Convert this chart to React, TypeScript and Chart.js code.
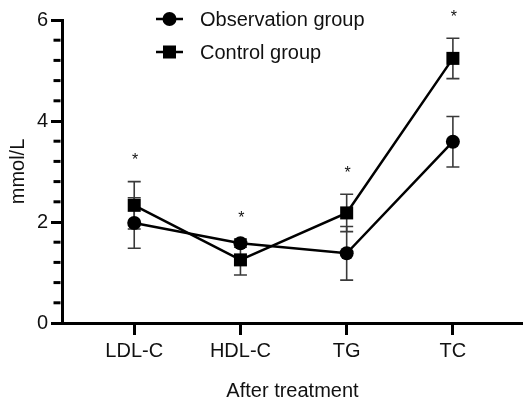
import React, { useEffect, useRef } from 'react';
import { Chart, registerables } from 'chart.js';

Chart.register(...registerables);

const categories = ['LDL-C', 'HDL-C', 'TG', 'TC'];
const observationMean = [1.98, 1.58, 1.38, 3.59];
const observationSD = [0.5, 0.08, 0.53, 0.5];
const controlMean = [2.33, 1.25, 2.18, 5.24];
const controlSD = [0.47, 0.3, 0.37, 0.4];
const significant = [true, true, true, true];
const seriesLabels = ['Observation group', 'Control group'];
const yMajorTicks = [0, 2, 4, 6];

const FONT = "'Liberation Sans', Arial, Helvetica, sans-serif";
const INK = '#111';

const overlay = {
  id: 'overlay',
  beforeDatasetsDraw(chart: any) {
    const ctx = chart.ctx;
    const xs = chart.scales.x;
    const ys = chart.scales.y;
    ctx.save();
    ctx.strokeStyle = '#3a3a3a';
    ctx.lineWidth = 1.6;
    const drawBars = (means: number[], sds: number[]) => {
      means.forEach((m, i) => {
        const px = xs.getPixelForValue(i);
        const top = ys.getPixelForValue(m + sds[i]);
        const bot = ys.getPixelForValue(m - sds[i]);
        ctx.beginPath();
        ctx.moveTo(px, top);
        ctx.lineTo(px, bot);
        ctx.moveTo(px - 6.5, top);
        ctx.lineTo(px + 6.5, top);
        ctx.moveTo(px - 6.5, bot);
        ctx.lineTo(px + 6.5, bot);
        ctx.stroke();
      });
    };
    drawBars(observationMean, observationSD);
    drawBars(controlMean, controlSD);
    ctx.restore();
  },
  afterDraw(chart: any) {
    const ctx = chart.ctx;
    const xs = chart.scales.x;
    const ys = chart.scales.y;
    ctx.save();
    // minor ticks
    ctx.strokeStyle = '#000';
    ctx.lineWidth = 3;
    const axisX = ys.right - 1.5;
    for (let k = 1; k < 15; k++) {
      if (k % 5 === 0) continue;
      const py = ys.getPixelForValue(k * 0.4);
      ctx.beginPath();
      ctx.moveTo(axisX - 7, py);
      ctx.lineTo(axisX, py);
      ctx.stroke();
    }
    // asterisks
    ctx.fillStyle = INK;
    ctx.font = `16px ${FONT}`;
    ctx.textAlign = 'center';
    ctx.textBaseline = 'middle';
    significant.forEach((s, i) => {
      if (!s) return;
      const top = Math.max(observationMean[i] + observationSD[i], controlMean[i] + controlSD[i]);
      const py = ys.getPixelForValue(top) - 24;
      ctx.fillText('*', xs.getPixelForValue(i) + 1, py + 3);
    });
    // legend
    const legendY = [19, 52];
    const styles = ['circle', 'rect'];
    seriesLabels.forEach((lab, i) => {
      const y = legendY[i];
      ctx.strokeStyle = '#000';
      ctx.lineWidth = 2.5;
      ctx.beginPath();
      ctx.moveTo(156, y);
      ctx.lineTo(183, y);
      ctx.stroke();
      ctx.fillStyle = '#000';
      if (styles[i] === 'circle') {
        ctx.beginPath();
        ctx.arc(169.5, y, 7, 0, Math.PI * 2);
        ctx.fill();
      } else {
        ctx.fillRect(163, y - 6.5, 13, 13);
      }
      ctx.fillStyle = INK;
      ctx.font = `20px ${FONT}`;
      ctx.textAlign = 'left';
      ctx.textBaseline = 'middle';
      ctx.fillText(lab, 200, y + 1);
    });
    ctx.restore();
  },
};

export default function App() {
  const ref = useRef<HTMLCanvasElement>(null);
  useEffect(() => {
    document.body.style.margin = '0';
    if (!ref.current) return;
    const chart = new Chart(ref.current, {
      type: 'line',
      data: {
        datasets: [
          {
            label: seriesLabels[0],
            data: observationMean.map((v, i) => ({ x: i, y: v })),
            borderColor: '#000',
            backgroundColor: '#000',
            borderWidth: 2.5,
            pointStyle: 'circle',
            pointRadius: 7,
            pointBorderWidth: 0,
          },
          {
            label: seriesLabels[1],
            data: controlMean.map((v, i) => ({ x: i, y: v })),
            borderColor: '#000',
            backgroundColor: '#000',
            borderWidth: 2.5,
            pointStyle: 'rect',
            pointRadius: 9.2,
            pointBorderWidth: 0,
          },
        ],
      },
      options: {
        responsive: false,
        animation: false,
        layout: { autoPadding: false, padding: { top: 20, right: 0, left: 0, bottom: 0 } },
        plugins: { legend: { display: false }, tooltip: { enabled: false } },
        scales: {
          x: {
            type: 'linear',
            min: -0.68,
            max: 3.66,
            afterBuildTicks: (s: any) => {
              s.ticks = categories.map((_, i) => ({ value: i }));
            },
            afterFit: (s: any) => {
              s.height = 77;
              s.paddingLeft = 0;
              s.paddingRight = 0;
            },
            ticks: {
              callback: (v: any) => categories[v] ?? '',
              font: { size: 20, family: FONT },
              color: INK,
              padding: 4,
              maxRotation: 0,
            },
            grid: {
              display: true,
              drawOnChartArea: false,
              drawTicks: true,
              tickLength: 12,
              tickWidth: 3,
              tickColor: '#000',
            },
            border: { display: true, width: 3, color: '#000' },
            title: {
              display: true,
              text: 'After treatment',
              font: { size: 20, family: FONT },
              color: INK,
              padding: { top: 0, bottom: -3 },
            },
          },
          y: {
            type: 'linear',
            min: 0,
            max: 6,
            afterBuildTicks: (s: any) => {
              s.ticks = yMajorTicks.map((v) => ({ value: v }));
            },
            afterFit: (s: any) => {
              s.width = 62;
            },
            ticks: {
              font: { size: 20, family: FONT },
              color: INK,
              padding: 3,
            },
            grid: {
              display: true,
              drawOnChartArea: false,
              drawTicks: true,
              tickLength: 11,
              tickWidth: 3,
              tickColor: '#000',
            },
            border: { display: true, width: 3, color: '#000' },
            title: {
              display: true,
              text: 'mmol/L',
              font: { size: 20, family: FONT },
              color: INK,
              padding: { top: 6, bottom: 0 },
            },
          },
        },
      },
      plugins: [overlay],
    } as any);
    return () => chart.destroy();
  }, []);
  return <canvas ref={ref} width={523} height={400} style={{ display: 'block' }} />;
}
